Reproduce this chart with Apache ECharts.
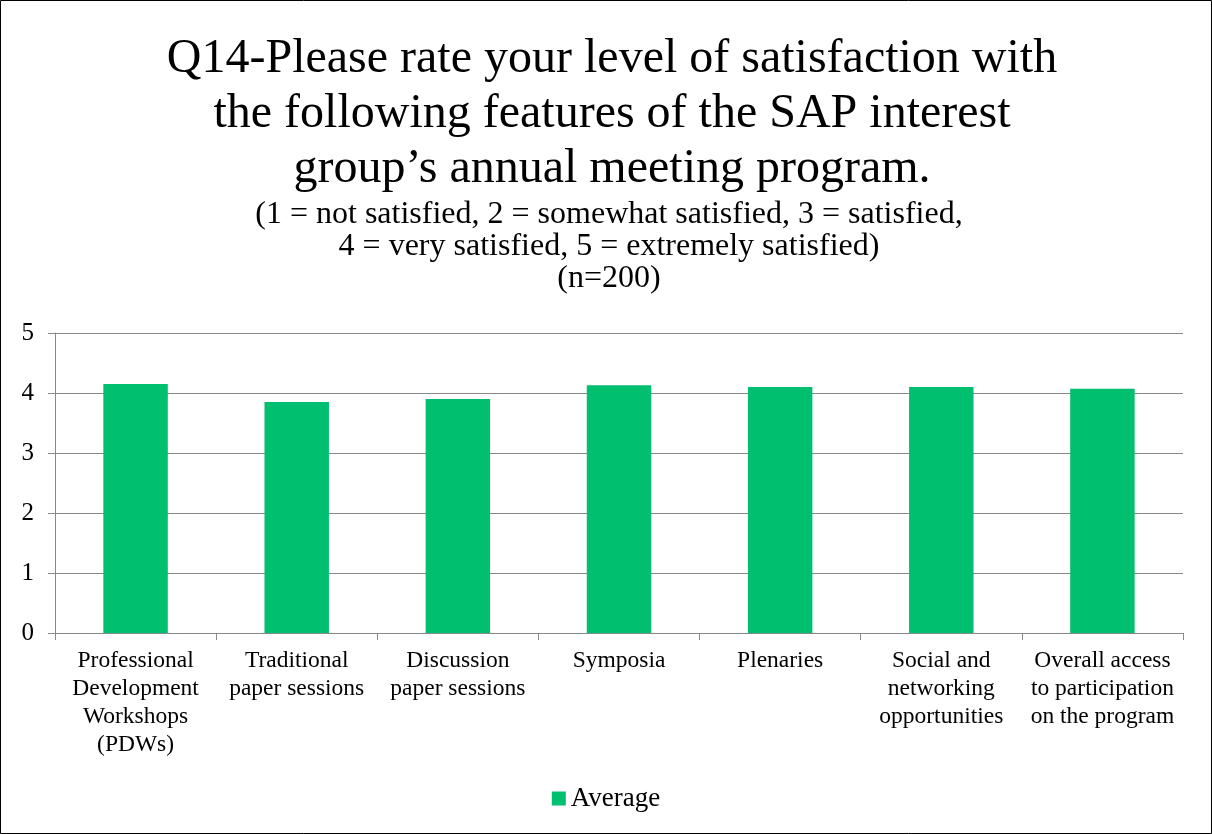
<!DOCTYPE html>
<html><head><meta charset="utf-8">
<script src="https://cdn.jsdelivr.net/npm/echarts@6/dist/echarts.min.js"></script>
<style>html,body{margin:0;padding:0;background:#fff}#c{width:1212px;height:834px}</style>
</head><body><div id="c"></div>
<script>
const titleText = "Q14-Please rate your level of satisfaction with\nthe following features of the SAP interest\ngroup\u2019s annual meeting program.";
const subText = "(1 = not satisfied, 2 = somewhat satisfied, 3 = satisfied,\n4 = very satisfied, 5 = extremely satisfied)\n(n=200)";
const categories = [
  "Professional\nDevelopment\nWorkshops\n(PDWs)",
  "Traditional\npaper sessions",
  "Discussion\npaper sessions",
  "Symposia",
  "Plenaries",
  "Social and\nnetworking\nopportunities",
  "Overall access\nto participation\non the program"
];
const seriesName = "Average";
const averages = [4.15, 3.85, 3.90, 4.13, 4.10, 4.10, 4.07];
const yTicks = [0, 1, 2, 3, 4, 5];

const font = "'Liberation Serif','Times New Roman',serif";
const chart = echarts.init(document.getElementById('c'), null, {renderer:'canvas'});
chart.setOption({
  backgroundColor: '#fff',
  animation: false,
  textStyle: {fontFamily: font, color: '#000'},
  graphic: [{type:'rect', shape:{x:0.5,y:0.5,width:1211,height:833}, style:{fill:'none', stroke:'#000', lineWidth:1}, z:100}],
  title: [
    {text: titleText, left: 607, top: 27, textAlign: 'center',
     textStyle:{fontFamily: font, fontSize: 48, fontWeight:'normal', color:'#000', lineHeight: 55}},
    {text: subText, left: 604, top: 194, textAlign: 'center',
     textStyle:{fontFamily: font, fontSize: 32, fontWeight:'normal', color:'#000', lineHeight: 32}}
  ],
  legend: {
    data: [seriesName], bottom: 17, left: 'center', itemWidth: 14, itemHeight: 14, icon: 'rect', itemGap: 4,
    textStyle: {fontFamily: font, fontSize: 27, color:'#000'}
  },
  grid: {left: 55, right: 29, top: 333, bottom: 201, containLabel: false},
  xAxis: {
    type: 'category', data: categories,
    axisLine: {lineStyle: {color:'#888', width:1}},
    axisTick: {show: true, length: 7, lineStyle:{color:'#888'}, alignWithLabel: false},
    axisLabel: {fontFamily: font, fontSize: 23.5, color:'#000', lineHeight: 28, margin: 14, interval: 0}
  },
  yAxis: {
    type: 'value', min: yTicks[0], max: yTicks[yTicks.length-1], interval: 1,
    axisLine: {show: true, lineStyle: {color:'#888', width:1}},
    axisTick: {show: true, length: 7, lineStyle:{color:'#888'}},
    axisLabel: {fontFamily: font, fontSize: 25, color:'#000', margin: 21},
    splitLine: {lineStyle: {color:'#888', width:1}}
  },
  series: [{
    name: seriesName, type: 'bar', data: averages, barWidth: '40%',
    itemStyle: {color: '#00BF6F'}
  }]
});
</script></body></html>
